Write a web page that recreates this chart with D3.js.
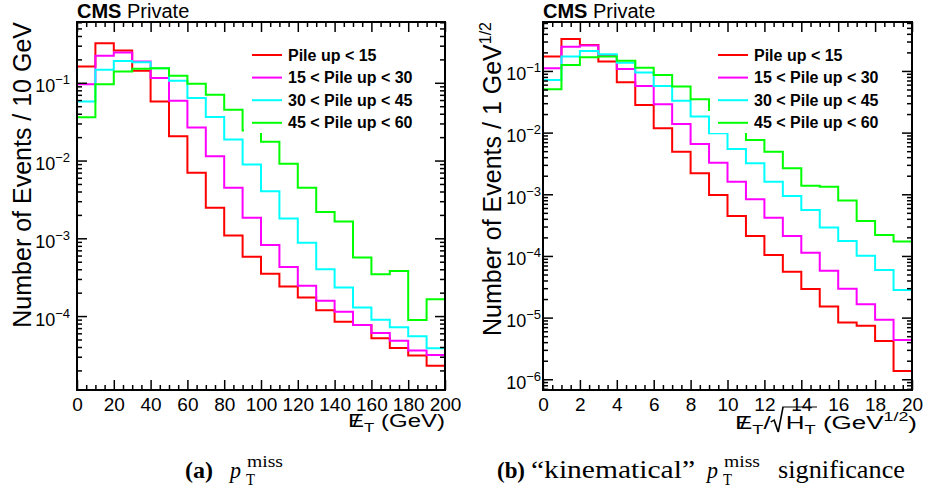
<!DOCTYPE html>
<html>
<head>
<meta charset="utf-8">
<script src="https://cdn.jsdelivr.net/npm/d3@7"></script>
<style>
body { margin: 0; background: #fff; }
svg text { font-family: "Liberation Sans", Arial, Helvetica, sans-serif; }
svg text.cap { font-family: "Liberation Serif", "Times New Roman", serif; }
</style>
</head>
<body>
<svg id="fig" width="926" height="495"></svg>
<script>
// Pile up categories and their colours
var puLabels = ["Pile up < 15", "15 < Pile up < 30", "30 < Pile up < 45", "45 < Pile up < 60"];
var puColors = ["#ff0000", "#ff00ff", "#00ffff", "#00ff00"];

// (a) MET, 10 GeV bins
var metEdges = [0, 10, 20, 30, 40, 50, 60, 70, 80, 90, 100, 110, 120, 130, 140, 150, 160, 170, 180, 190, 200];
var metPU15 = [0.162, 0.323, 0.26, 0.143, 0.0576, 0.0205, 0.00695, 0.00247, 0.00109, 5.8e-4, 3.5e-4, 2.4e-4, 1.73e-4, 1.19e-4, 8.45e-5, 7.67e-5, 5.2e-5, 3.89e-5, 3.1e-5, 2.3e-5];
var metPU30 = [0.096, 0.222, 0.245, 0.1875, 0.115, 0.0588, 0.0267, 0.01135, 0.00447, 0.00184, 8.2e-4, 4.29e-4, 2.45e-4, 1.57e-4, 1.14e-4, 7.7e-5, 6.05e-5, 4.83e-5, 3.6e-5, 3.16e-5];
var metPU45 = [0.0576, 0.147, 0.191, 0.184, 0.154, 0.106, 0.0637, 0.0363, 0.0186, 0.0089, 0.00404, 0.0018, 8.8e-4, 4.0e-4, 2.33e-4, 1.29e-4, 8.98e-5, 7.2e-5, 5.5e-5, 3.85e-5];
var metPU60 = [0.036, 0.096, 0.14, 0.151, 0.154, 0.123, 0.097, 0.07, 0.045, 0.0243, 0.0174, 0.0091, 0.00447, 0.00218, 0.00164, 5.65e-4, 3.45e-4, 3.81e-4, 8.9e-5, 1.65e-4];

// (b) MET significance, 1 GeV^1/2 bins
var sigEdges = [0, 1, 2, 3, 4, 5, 6, 7, 8, 9, 10, 11, 12, 13, 14, 15, 16, 17, 18, 19, 20];
var sigPU15 = [0.171, 0.33, 0.264, 0.142, 0.0656, 0.0281, 0.0118, 0.0049, 0.00219, 9.75e-4, 4.45e-4, 2.11e-4, 1.04e-4, 5.56e-5, 2.91e-5, 1.51e-5, 8.3e-6, 7.4e-6, 4.18e-6, 1.36e-6];
var sigPU30 = [0.111, 0.248, 0.258, 0.175, 0.1077, 0.0571, 0.0288, 0.0138, 0.00654, 0.00326, 0.0016, 8.3e-4, 4.18e-4, 2.11e-4, 1.13e-4, 5.78e-5, 2.94e-5, 1.64e-5, 9.2e-6, 4.34e-6];
var sigPU45 = [0.0715, 0.171, 0.211, 0.187, 0.136, 0.094, 0.0571, 0.033, 0.0182, 0.0098, 0.0054, 0.00318, 0.0016, 9.4e-4, 5.57e-4, 2.88e-4, 1.75e-4, 1.01e-4, 5.93e-5, 2.8e-5];
var sigPU60 = [0.0505, 0.125, 0.167, 0.171, 0.147, 0.113, 0.086, 0.0557, 0.0347, 0.0233, 0.0133, 0.0076, 0.0049, 0.00264, 0.00137, 0.00132, 7.9e-4, 3.69e-4, 2.19e-4, 1.71e-4];

var svg = d3.select("#fig");

var panels = [
    {id: "a", left: 77, right: 445, top: 22, bottom: 390,
     xDomain: [0, 200], yDomain: [1.12e-5, 0.605], xMajor: 20, xMinor: 5,
     edges: metEdges, series: [metPU15, metPU30, metPU45, metPU60], labelGap: 7,
     yTitle: "Number of Events / 10 GeV", ySup: null, yTitleX: 31},
    {id: "b", left: 543, right: 912, top: 22, bottom: 390,
     xDomain: [0, 20], yDomain: [6.7e-7, 0.622], xMajor: 2, xMinor: 0.5,
     edges: sigEdges, series: [sigPU15, sigPU30, sigPU45, sigPU60], labelGap: 2,
     yTitle: "Number of Events / 1 GeV", ySup: "1/2", yTitleX: 501}
];

function stepValues(dom, step) {
    return d3.range(dom[0], dom[1] + step / 2, step);
}

// slashed E with subscript T (ROOT #slash{E}_{T})
function slashE(text, fs) {
    var wE = 0.667 * fs, wS = 0.278 * fs;
    text.append("tspan").text("E");
    text.append("tspan").attr("dx", -(wE + wS) / 2).text("/");
    text.append("tspan").attr("dx", (wE - wS) / 2).attr("dy", 5).attr("font-size", fs * 0.7).text("T");
}

function drawPanel(p) {
    var x = d3.scaleLinear().domain(p.xDomain).range([p.left, p.right]);
    var y = d3.scaleLog().domain(p.yDomain).range([p.bottom, p.top]);
    var g = svg.append("g");

    g.append("clipPath").attr("id", "clip" + p.id).append("rect")
        .attr("x", p.left).attr("y", p.top)
        .attr("width", p.right - p.left).attr("height", p.bottom - p.top);

    // histograms
    var line = d3.line().curve(d3.curveStepAfter)
        .x(function(d) { return x(d[0]); })
        .y(function(d) { return y(d[1]); });
    var hg = g.append("g").attr("clip-path", "url(#clip" + p.id + ")");
    p.series.forEach(function(vals, k) {
        var pts = p.edges.map(function(e, i) { return [e, vals[Math.min(i, vals.length - 1)]]; });
        hg.append("path").attr("d", line(pts))
            .attr("fill", "none").attr("stroke", puColors[k]).attr("stroke-width", 2);
    });

    // legend (white box hides the lines behind it)
    var lx = p.left + 167;
    g.append("rect").attr("x", lx).attr("y", 38)
        .attr("width", p.right - lx - 4).attr("height", 95).attr("fill", "#fff");
    puLabels.forEach(function(lab, k) {
        var ry = 55 + k * 22.6;
        g.append("line").attr("x1", lx + 8).attr("x2", lx + 38).attr("y1", ry).attr("y2", ry)
            .attr("stroke", puColors[k]).attr("stroke-width", 2);
        g.append("text").attr("x", lx + 44).attr("y", ry + 5.5)
            .attr("font-size", 16).attr("font-weight", "bold").text(lab);
    });

    // ticks on all four sides
    var xMaj = stepValues(p.xDomain, p.xMajor);
    var xMin = stepValues(p.xDomain, p.xMinor).filter(function(v) { return xMaj.indexOf(v) < 0; });
    var yAll = y.ticks();
    var yMaj = yAll.filter(function(v) { return Math.abs(Math.log10(v) - Math.round(Math.log10(v))) < 1e-6; });
    var yMin = yAll.filter(function(v) { return yMaj.indexOf(v) < 0; });

    function noDomain(sel) {
        sel.select(".domain").remove();
        sel.selectAll(".tick line").attr("stroke", "#000").attr("stroke-width", 1.5);
    }

    var bx = g.append("g").attr("transform", "translate(0," + p.bottom + ")")
        .call(d3.axisBottom(x).tickValues(xMaj).tickSize(-10).tickPadding(8).tickFormat(d3.format("d")))
        .call(noDomain);
    bx.attr("font-family", null).attr("font-size", 19);
    g.append("g").attr("transform", "translate(0," + p.bottom + ")")
        .call(d3.axisBottom(x).tickValues(xMin).tickSize(-5).tickFormat("")).call(noDomain);
    g.append("g").attr("transform", "translate(0," + p.top + ")")
        .call(d3.axisTop(x).tickValues(xMaj).tickSize(-10).tickFormat("")).call(noDomain);
    g.append("g").attr("transform", "translate(0," + p.top + ")")
        .call(d3.axisTop(x).tickValues(xMin).tickSize(-5).tickFormat("")).call(noDomain);

    var ly = g.append("g").attr("transform", "translate(" + p.left + ",0)")
        .call(d3.axisLeft(y).tickValues(yMaj).tickSize(-10).tickPadding(p.labelGap).tickFormat(""))
        .call(noDomain);
    ly.attr("font-family", null).attr("font-size", 18);
    ly.selectAll(".tick text").each(function(d) {
        var t = d3.select(this).attr("dy", 9);
        t.append("tspan").text("10");
        t.append("tspan").attr("dy", -8).attr("font-size", 13)
            .text("\u2212" + Math.abs(Math.round(Math.log10(d))));
    });
    g.append("g").attr("transform", "translate(" + p.left + ",0)")
        .call(d3.axisLeft(y).tickValues(yMin).tickSize(-5).tickFormat("")).call(noDomain);
    g.append("g").attr("transform", "translate(" + p.right + ",0)")
        .call(d3.axisRight(y).tickValues(yMaj).tickSize(-10).tickFormat("")).call(noDomain);
    g.append("g").attr("transform", "translate(" + p.right + ",0)")
        .call(d3.axisRight(y).tickValues(yMin).tickSize(-5).tickFormat("")).call(noDomain);

    // frame
    g.append("rect").attr("x", p.left).attr("y", p.top)
        .attr("width", p.right - p.left).attr("height", p.bottom - p.top)
        .attr("fill", "none").attr("stroke", "#000").attr("stroke-width", 2);

    // CMS label
    var cms = g.append("text").attr("x", p.left).attr("y", 18).attr("font-size", 20);
    cms.append("tspan").attr("font-weight", "bold").text("CMS");
    cms.append("tspan").text(" Private");

    // y title
    var yt = g.append("text").attr("transform", "translate(" + p.yTitleX + "," + p.top + ") rotate(-90)")
        .attr("text-anchor", "end").attr("font-size", 25).text(p.yTitle);
    if (p.ySup) {
        yt.append("tspan").attr("dy", -10).attr("font-size", 16).text(p.ySup);
    }
    return g;
}

panels.forEach(drawPanel);

// stretch a title group horizontally so it spans the same width as in the original
function fitTitle(grp, text, xEnd, yBase, width) {
    var w = text.node().getBBox().width;
    grp.attr("transform", "translate(" + xEnd + "," + yBase + ") scale(" + (width / w) + ",1)");
}

// x titles
var fs = 19;
var ga = svg.append("g");
var xa = ga.append("text").attr("text-anchor", "end").attr("font-size", fs);
slashE(xa, fs);
xa.append("tspan").attr("dy", -5).text(" (GeV)");
fitTitle(ga, xa, 445, 427, 97);

var gb = svg.append("g");
var xb = gb.append("text").attr("text-anchor", "end").attr("font-size", fs);
slashE(xb, fs);
xb.append("tspan").attr("dy", -5).text("/");
xb.append("tspan").attr("dx", 11).text("H");
xb.append("tspan").attr("dy", 5).attr("font-size", fs * 0.7).text("T");
xb.append("tspan").attr("dy", -5).text(" (GeV");
xb.append("tspan").attr("dy", -8).attr("font-size", 13).text("1/2");
xb.append("tspan").attr("dy", 8).text(")");
// square root sign over H_T
var nb = xb.node();
var hPos = nb.getStartPositionOfChar(4), tEnd = nb.getEndPositionOfChar(5);
var rootTop = -22;
gb.append("path")
    .attr("d", "M" + (hPos.x - 11) + "," + (-7) + "L" + (hPos.x - 8.5) + "," + (-9) +
        "L" + (hPos.x - 5.5) + "," + 3 + "L" + (hPos.x - 2) + "," + rootTop + "L" + (tEnd.x + 1) + "," + rootTop)
    .attr("fill", "none").attr("stroke", "#000").attr("stroke-width", 1.2);
fitTitle(gb, xb, 917, 429, 182);

// captions: each piece is fitted to the width it has in the original
var capPieces = [
    {t: "(a)", x: 185, y: 478, fs: 24, w: 28, weight: "bold"},
    {t: "p", x: 230, y: 478, fs: 24, w: 11, style: "italic"},
    {t: "T", x: 246, y: 485, fs: 16, w: 9},
    {t: "miss", x: 247, y: 467, fs: 17, w: 36},
    {t: "(b)", x: 497, y: 478, fs: 24, w: 28, weight: "bold"},
    {t: "\u201ckinematical\u201d", x: 531, y: 478, fs: 26, w: 164},
    {t: "p", x: 707, y: 478, fs: 24, w: 11, style: "italic"},
    {t: "T", x: 723, y: 485, fs: 16, w: 9},
    {t: "miss", x: 724, y: 467, fs: 17, w: 36},
    {t: "significance", x: 778, y: 478, fs: 26, w: 127}
];
svg.selectAll("text.cap").data(capPieces).enter().append("text")
    .attr("class", "cap")
    .attr("x", function(d) { return d.x; })
    .attr("y", function(d) { return d.y; })
    .attr("font-size", function(d) { return d.fs; })
    .attr("font-weight", function(d) { return d.weight || null; })
    .attr("font-style", function(d) { return d.style || null; })
    .attr("textLength", function(d) { return d.w; })
    .attr("lengthAdjust", "spacingAndGlyphs")
    .text(function(d) { return d.t; });
</script>
</body>
</html>
